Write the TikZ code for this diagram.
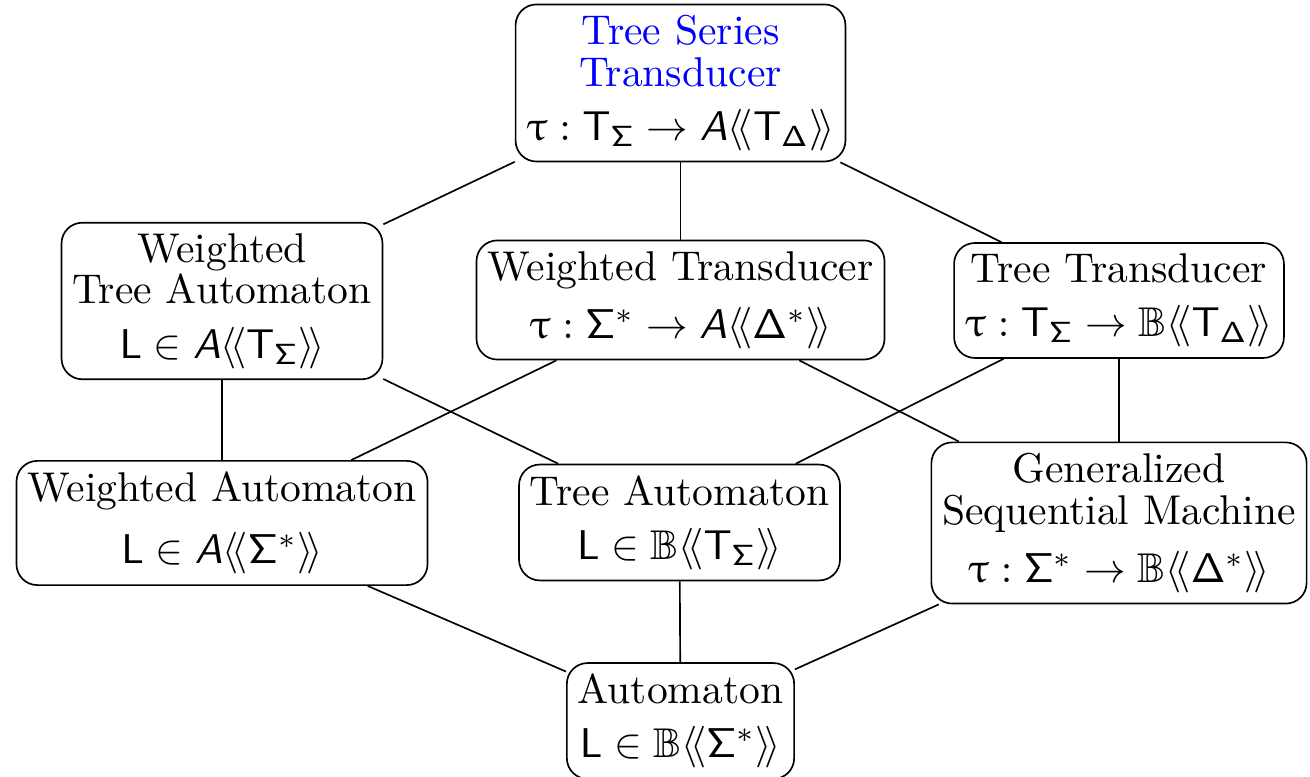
\documentclass[tikz,border=0pt]{standalone}
\usepackage{amssymb}
\usepackage{upgreek}
\usetikzlibrary{positioning}
\DeclareMathAlphabet{\mathsfup}{OT1}{cmss}{m}{n}
\DeclareMathAlphabet{\mathsfsl}{OT1}{cmss}{m}{sl}
\newcommand{\pwrser}[1]{\langle\!\langle #1\rangle\!\rangle}
\newcommand{\TrS}{\mathsfup{T}_{\mathsfup{\Sigma}}}
\newcommand{\TrD}{\mathsfup{T}_{\mathsfup{\Delta}}}
\newcommand{\StS}{\mathsfup{\Sigma}^{*}}
\newcommand{\StD}{\mathsfup{\Delta}^{*}}
\newcommand{\Aw}{\mathsfsl{A}}
\begin{document}
\begin{tikzpicture}[x=0.845cm,y=0.845cm,
  machine/.style={draw, black, rounded corners=5pt, align=center, inner sep=2.6pt,
    font=\fontsize{10}{10}\selectfont}]
\useasboundingbox (0,0) rectangle (13.10,7.77);

\node[machine] (TST) at (6.805,6.94) {\textcolor{blue}{Tree Series}\\\textcolor{blue}{Transducer}\\[3pt]$\uptau: \TrS\rightarrow \Aw\pwrser{\TrD}$};
\node[machine] (WTA) at (2.22,4.76) {Weighted\\Tree Automaton\\[3pt]$\mathsfup{L}\in \Aw\pwrser{\TrS}$};
\node[machine] (WT) at (6.805,4.77) {Weighted Transducer\\[4pt]$\uptau: \StS\rightarrow \Aw\pwrser{\StD}$};
\node[machine] (TT) at (11.19,4.765) {Tree Transducer\\[3pt]$\uptau: \TrS\rightarrow \mathbb{B}\pwrser{\TrD}$};
\node[machine] (WA) at (2.22,2.54) {Weighted Automaton\\[5pt]$\mathsfup{L}\in \Aw\pwrser{\StS}$};
\node[machine] (TA) at (6.795,2.545) {Tree Automaton\\[3pt]$\mathsfup{L}\in \mathbb{B}\pwrser{\TrS}$};
\node[machine] (GSM) at (11.19,2.54) {Generalized\\Sequential Machine\\[4pt]$\uptau: \StS\rightarrow \mathbb{B}\pwrser{\StD}$};
\node[machine] (Aut) at (6.805,0.56) {Automaton\\[3pt]$\mathsfup{L}\in \mathbb{B}\pwrser{\StS}$};

\draw (TST)--(WTA);
\draw (TST)--(WT);
\draw (TST)--(TT);
\draw (WTA)--(WA);
\draw (WTA)--(TA);
\draw (WT)--(WA);
\draw (WT)--(GSM);
\draw (TT)--(TA);
\draw (TT)--(GSM);
\draw (WA)--(Aut);
\draw (TA)--(Aut);
\draw (GSM)--(Aut);

\end{tikzpicture}
\end{document}
